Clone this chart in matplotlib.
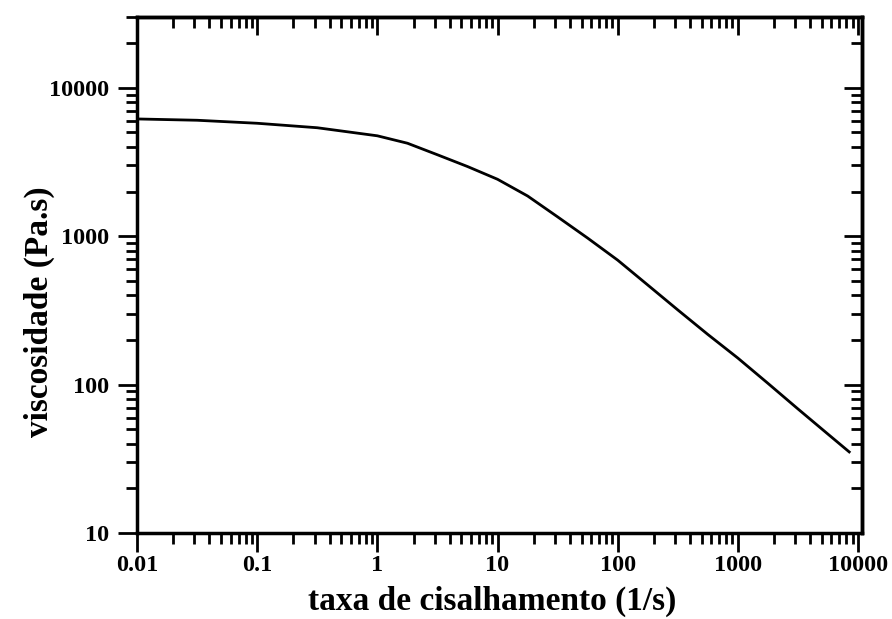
import matplotlib.pyplot as plt
from matplotlib.ticker import LogLocator, NullFormatter

# values
shear_rate = [0.01, 0.0316, 0.1, 0.316, 1, 1.78, 3.16, 5.62, 10, 17.8, 31.6,
              56.2, 100, 178, 316, 562, 1000, 1780, 3162, 5620, 8450]
viscosity = [6170, 6046, 5770, 5383, 4750, 4233, 3540, 2950, 2420, 1867, 1351,
             972, 690, 469, 319, 218, 151, 102, 68.6, 46.4, 35.2]

xticks = [0.01, 0.1, 1, 10, 100, 1000, 10000]
xtick_labels = ['0.01', '0.1', '1', '10', '100', '1000', '10000']
yticks = [10, 100, 1000, 10000]
ytick_labels = ['10', '100', '1000', '10000']

plt.rcParams['font.family'] = ['Liberation Serif', 'DejaVu Serif']

fig = plt.figure(figsize=(8.92, 6.19), dpi=100)
ax = fig.add_axes([0.1536, 0.1389, 0.8128, 0.8336])

ax.plot(shear_rate, viscosity, color='black', lw=2)

ax.set_xscale('log')
ax.set_yscale('log')
ax.set_xlim(0.01, 10800)
ax.set_ylim(10, 30000)

ax.set_xticks(xticks, xtick_labels)
ax.set_yticks(yticks, ytick_labels)
ax.xaxis.set_minor_locator(LogLocator(base=10, subs=range(2, 10), numticks=20))
ax.yaxis.set_minor_locator(LogLocator(base=10, subs=range(2, 10), numticks=20))
ax.xaxis.set_minor_formatter(NullFormatter())
ax.yaxis.set_minor_formatter(NullFormatter())
for lbl in ax.get_xticklabels() + ax.get_yticklabels():
    lbl.set_fontweight('bold')

ax.tick_params(which='major', direction='out', length=14, width=2, labelsize=17.5)
ax.tick_params(which='minor', direction='out', length=8, width=2)
ax.tick_params(axis='x', which='major', pad=1.5)
ax.tick_params(axis='y', which='major', pad=6)

for s in ax.spines.values():
    s.set_linewidth(2.5)

# mirrored ticks on top and right, pointing inward
top = ax.secondary_xaxis('top')
right = ax.secondary_yaxis('right')
top.set_xticks(xticks)
right.set_yticks(yticks)
top.xaxis.set_minor_locator(LogLocator(base=10, subs=range(2, 10), numticks=20))
right.yaxis.set_minor_locator(LogLocator(base=10, subs=range(2, 10), numticks=20))
for sec, axis in ((top, top.xaxis), (right, right.yaxis)):
    sec.tick_params(which='major', direction='in', length=13, width=2)
    sec.tick_params(which='minor', direction='in', length=8, width=2)
    axis.set_major_formatter(NullFormatter())
    axis.set_minor_formatter(NullFormatter())
    sec.spines[:].set_linewidth(2.5)

ax.set_xlabel('taxa de cisalhamento (1/s)', fontsize=24, fontweight='bold')
ax.set_ylabel('viscosidade (Pa.s)', fontsize=24, fontweight='bold')
ax.xaxis.set_label_coords(0.49, -0.103)
ax.yaxis.set_label_coords(-0.113, 0.428)

plt.savefig('out.png', dpi=100)
